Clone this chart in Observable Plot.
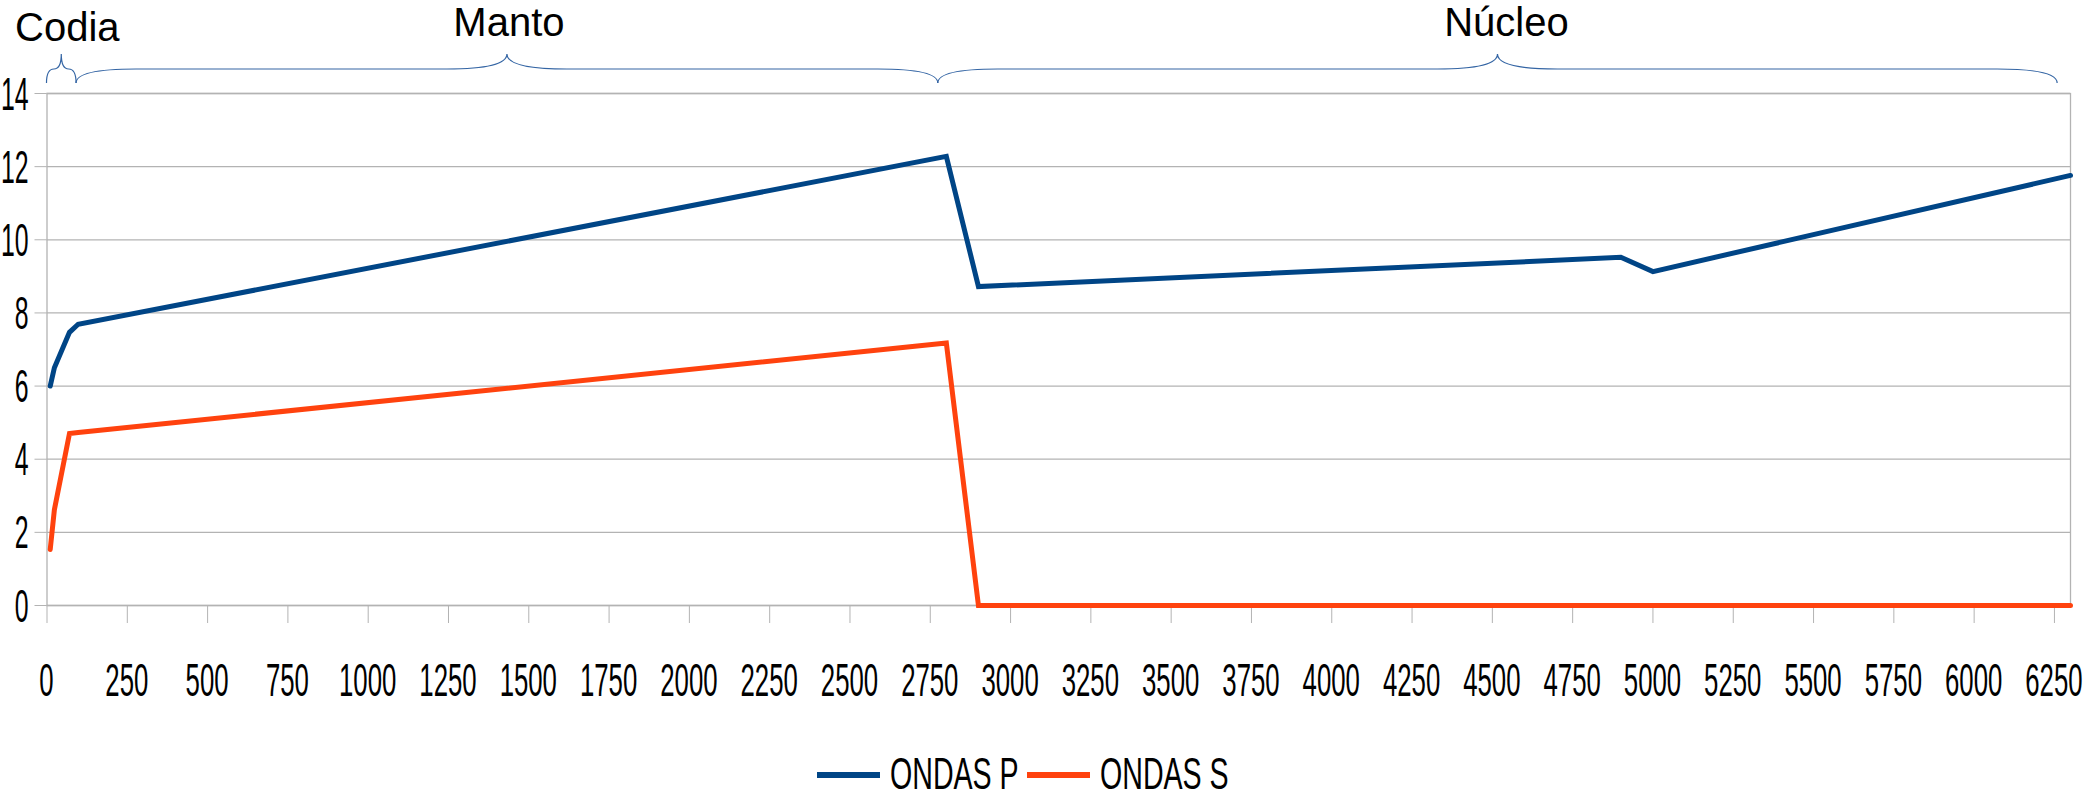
<!DOCTYPE html>
<html>
<head>
<meta charset="utf-8">
<script src="https://cdn.jsdelivr.net/npm/d3@7"></script>
<script src="https://cdn.jsdelivr.net/npm/@observablehq/plot@0.6"></script>
<style>
  html, body { margin: 0; padding: 0; background: #fff; }
  body { width: 2084px; height: 800px; overflow: hidden; font-family: "Liberation Sans", Arial, sans-serif; }
  #chart { position: relative; width: 2084px; height: 725px; }
  #chart svg, #legend svg { display: block; }
  #legend { position: relative; width: 2084px; height: 75px; }
</style>
</head>
<body>
<div id="chart"></div>
<div id="legend"></div>
<script>
// ---- data ----
const depthP = [10, 23, 70, 97, 2800, 2900, 4900, 5000, 6300];
const velP   = [6.0, 6.5, 7.47, 7.69, 12.28, 8.72, 9.52, 9.13, 11.76];
const depthS = [10, 23, 70, 97, 2800, 2900, 6300];
const velS   = [1.53, 2.62, 4.70, 4.73, 7.18, 0, 0];
const seriesNames  = ["ONDAS P", "ONDAS S"];
const seriesColors = ["#004586", "#ff420e"];
const xTicks = d3.range(0, 6251, 250);
const yTicks = d3.range(0, 15, 2);
const regionNames = ["Codia", "Manto", "Núcleo"];
const regionStart = [0, 92, 2775];
const regionEnd   = [92, 2775, 6260];

const rows = [
  ...depthP.map((d, i) => ({depth: d, v: velP[i], s: seriesNames[0]})),
  ...depthS.map((d, i) => ({depth: d, v: velS[i], s: seriesNames[1]}))
];

const FONT = "'Liberation Sans', Arial, sans-serif";
const grid = "#b3b3b3";
const plot = Plot.plot({
  width: 2084,
  height: 725,
  marginLeft: 46.5,
  marginRight: 14,
  marginTop: 93,
  marginBottom: 120,
  style: {fontFamily: FONT, fontSize: "46px", color: "#000", background: "#fff"},
  x: {domain: [0, 6300]},
  y: {domain: [0, 14]},
  color: {domain: seriesNames, range: seriesColors},
  marks: [
    Plot.ruleY(yTicks, {stroke: grid, strokeWidth: 1.3}),
    Plot.frame({stroke: grid, strokeWidth: 1.3}),
    Plot.axisY(yTicks, {tickSize: 12, tickPadding: 8, stroke: grid, fill: "#000", label: null,
      fontSize: 46, tickFormat: d3.format("d")}),
    Plot.axisX(xTicks, {tickSize: 18, tickPadding: 25, stroke: grid, fill: "#000", label: null,
      fontSize: 46, tickFormat: d3.format("d")}),
    Plot.line(rows, {x: "depth", y: "v", z: "s", stroke: "s", strokeWidth: 5,
      strokeLinejoin: "miter", strokeMiterlimit: 4})
  ]
});
document.getElementById("chart").appendChild(plot);

const xs = plot.scale("x"), ys = plot.scale("y");
const X = v => xs.apply(v);
const Y = v => ys.apply(v);

// place and squeeze the tick labels horizontally like the reference
function fixLabels(selector, place, squeeze) {
  d3.select(plot).selectAll(selector).each(function () {
    const v = +this.textContent;
    const [tx, ty, anchor] = place(v);
    this.removeAttribute("x"); this.removeAttribute("y"); this.removeAttribute("dy");
    this.setAttribute("transform", `translate(${tx},${ty}) scale(${squeeze},1)`);
    this.setAttribute("text-anchor", anchor);
    this.style.fontSize = "46px";
    this.style.fontFamily = FONT;
    this.style.dominantBaseline = "alphabetic";
    this.parentNode.removeAttribute("transform");
  });
}
fixLabels("g[aria-label='x-axis tick label'] text", v => [X(v), Y(0) + 91, "middle"], 0.56);
fixLabels("g[aria-label='y-axis tick label'] text", v => [X(0) - 18, Y(v) + 16.5, "end"], 0.54);

// braces with region labels above the frame
const frameTop = Y(14);
const yEnd = frameTop - 10, yBar = frameTop - 24, yTip = frameTop - 39;
const bg = d3.select(plot).append("g");
regionNames.forEach((name, i) => {
  const x0 = X(regionStart[i]), x1 = X(regionEnd[i]);
  const xm = (x0 + x1) / 2;
  const r = Math.min(60, (x1 - x0) / 4);
  const d = `M${x0},${yEnd} Q${x0},${yBar} ${x0 + r},${yBar} L${xm - r},${yBar} ` +
            `Q${xm},${yBar} ${xm},${yTip} Q${xm},${yBar} ${xm + r},${yBar} ` +
            `L${x1 - r},${yBar} Q${x1},${yBar} ${x1},${yEnd}`;
  bg.append("path").attr("d", d).attr("fill", "none").attr("stroke", "#3465a4").attr("stroke-width", 1.2);
  bg.append("text")
    .attr("x", i === 0 ? xm + 6 : xm + (i === 2 ? 9 : 2))
    .attr("y", i === 0 ? frameTop - 52 : frameTop - 57)
    .attr("text-anchor", "middle")
    .attr("font-family", FONT)
    .attr("font-size", 40)
    .attr("fill", "#000")
    .text(name);
});

// legend below the chart
const lg = d3.select("#legend").append("svg")
  .attr("width", 2084).attr("height", 75)
  .attr("font-family", FONT);
seriesNames.forEach((name, i) => {
  const left = 817 + i * 210;
  lg.append("rect").attr("x", left).attr("y", 47).attr("width", 63).attr("height", 6)
    .attr("fill", seriesColors[i]);
  lg.append("text")
    .attr("transform", `translate(${left + 73},64) scale(0.65,1)`)
    .attr("font-size", 44).attr("fill", "#000")
    .text(name);
});
</script>
</body>
</html>
